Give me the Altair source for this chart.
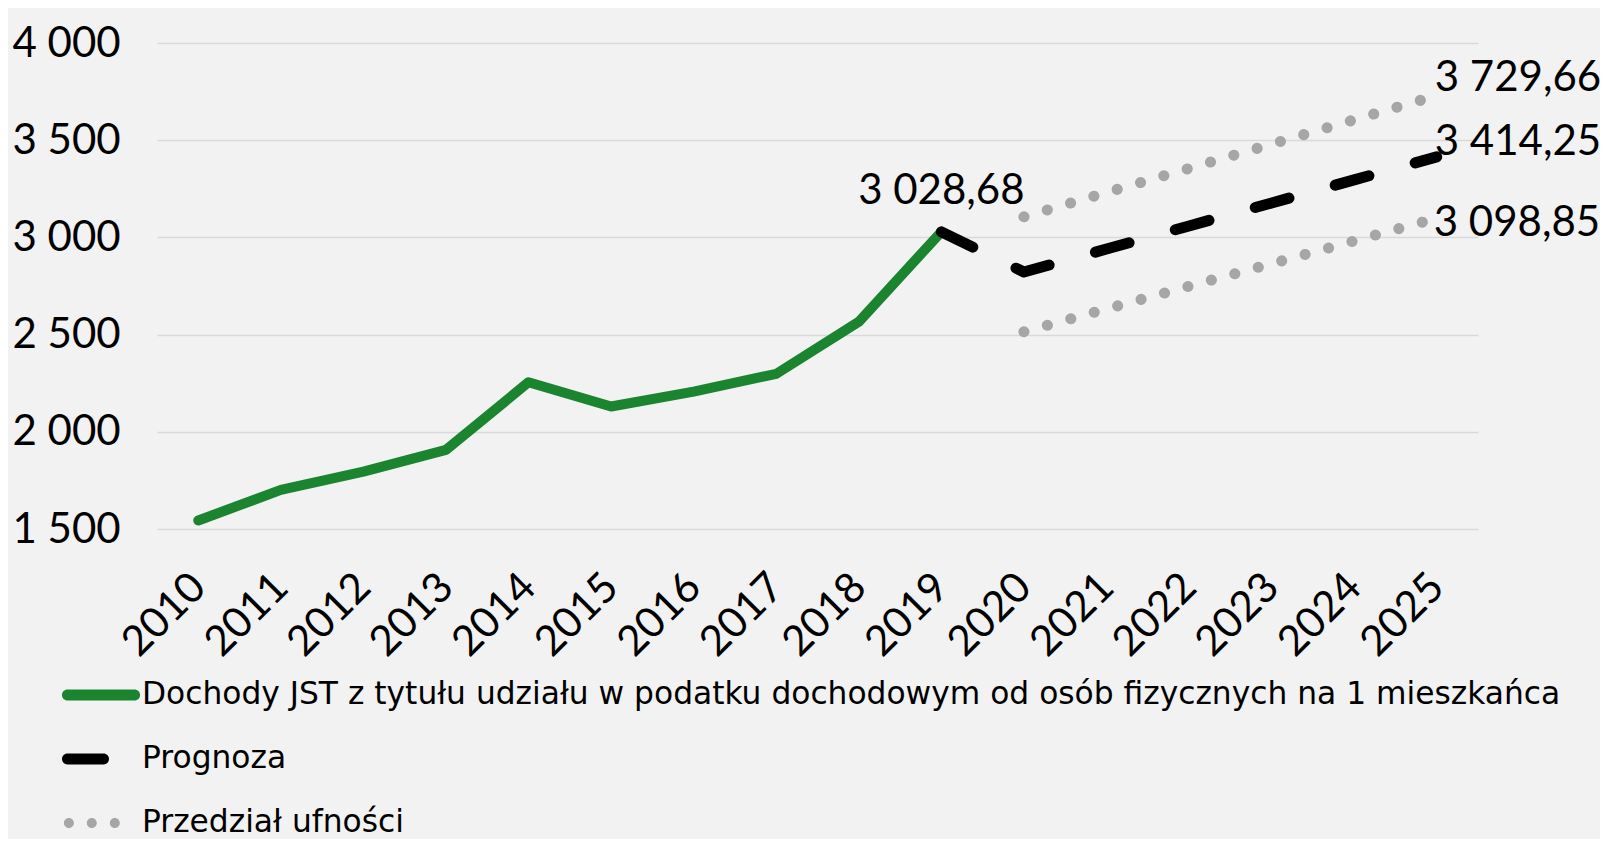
import altair as alt
import pandas as pd

FONT = "Lato"
LEGEND_FONT = "DejaVu Sans"

years = [str(y) for y in range(2010, 2026)]

hist_years = [2010, 2011, 2012, 2013, 2014, 2015, 2016, 2017, 2018, 2019]
hist_values = [1544, 1701, 1795, 1907, 2255, 2130, 2207, 2298, 2566, 3028.68]

fc_years = [2019, 2020, 2021, 2022, 2023, 2024, 2025]
fc_values = [3028.68, 2822, 2940, 3059, 3177, 3296, 3414.25]

ci_years = [2020, 2021, 2022, 2023, 2024, 2025]
ci_upper = [3106, 3231, 3355, 3480, 3605, 3729.66]
ci_lower = [2515, 2632, 2749, 2865, 2982, 3098.85]

series_names = [
    "Dochody JST z tytułu udziału w podatku dochodowym od osób fizycznych na 1 mieszkańca",
    "Prognoza",
    "Przedział ufności",
]
series_colors = ["#1B842F", "#000000", "#A6A6A6"]

# legend symbols (unit square -1..1)
legend_shapes = [
    "M-0.86,-0.141L0.86,-0.141A0.141,0.141 0 0 1 0.86,0.141L-0.86,0.141A0.141,0.141 0 0 1 -0.86,-0.141Z",
    "M-0.86,-0.141L0.064,-0.141A0.141,0.141 0 0 1 0.064,0.141L-0.86,0.141A0.141,0.141 0 0 1 -0.86,-0.141Z",
    "M-0.951,0A0.128,0.128 0 1 0 -0.695,0A0.128,0.128 0 1 0 -0.951,0Z"
    "M-0.364,0A0.128,0.128 0 1 0 -0.108,0A0.128,0.128 0 1 0 -0.364,0Z"
    "M0.226,0A0.128,0.128 0 1 0 0.482,0A0.128,0.128 0 1 0 0.226,0Z",
]

y_ticks = [1500, 2000, 2500, 3000, 3500, 4000]


def pl(v):
    return f"{v:,.2f}".replace(",", " ").replace(".", ",")


hist_df = pd.DataFrame({"year": [str(y) for y in hist_years], "value": hist_values})
fc_df = pd.DataFrame({"year": [str(y) for y in fc_years], "value": fc_values})
ci_df = pd.concat([
    pd.DataFrame({"year": [str(y) for y in ci_years], "value": ci_upper, "line": "up"}),
    pd.DataFrame({"year": [str(y) for y in ci_years], "value": ci_lower, "line": "low"}),
])
legend_df = pd.DataFrame({"series": series_names})

labels = pd.DataFrame([
    {"year": "2019", "value": hist_values[-1], "text": pl(hist_values[-1]), "key": "peak"},
    {"year": "2025", "value": ci_upper[-1], "text": pl(ci_upper[-1]), "key": "up"},
    {"year": "2025", "value": fc_values[-1], "text": pl(fc_values[-1]), "key": "fc"},
    {"year": "2025", "value": ci_lower[-1], "text": pl(ci_lower[-1]), "key": "low"},
])

x_enc = alt.X(
    "year:O",
    sort=years,
    scale=alt.Scale(type="point", padding=0.5, domain=years),
    axis=alt.Axis(
        title=None, grid=False, ticks=False, domain=False,
        labelAngle=-45, labelAlign="right", labelBaseline="middle",
        labelPadding=51, labelFontSize=42, labelFont=FONT, labelColor="#000000",
        labelOverlap=False,
    ),
)
y_enc = alt.Y(
    "value:Q",
    scale=alt.Scale(domain=[1500, 4000], nice=False, zero=False),
    axis=alt.Axis(
        title=None, values=y_ticks, ticks=False, domain=False,
        grid=True, gridColor="#D9D9D9", gridWidth=1.5,
        labelAlign="left", labelBaseline="middle", labelPadding=145,
        labelFontSize=42, labelFont=FONT, labelColor="#000000",
        labelExpr="replace(format(datum.value, ','), ',', ' ')",
    ),
)

hist_line = alt.Chart(hist_df).mark_line(
    color=series_colors[0], strokeWidth=10, strokeCap="round", strokeJoin="round"
).encode(x=x_enc, y=y_enc)

fc_line = alt.Chart(fc_df).mark_line(
    color=series_colors[1], strokeWidth=11, strokeCap="round", strokeJoin="round",
    strokeDash=[35, 48],
).encode(x=alt.X("year:O", sort=years), y="value:Q")

ci_lines = alt.Chart(ci_df).mark_line(
    color=series_colors[2], strokeWidth=11, strokeCap="round", strokeJoin="round",
    strokeDash=[0.1, 24.2],
).encode(x=alt.X("year:O", sort=years), y="value:Q", detail="line:N")

legend_layer = alt.Chart(legend_df).transform_filter("false").mark_point(
    filled=True, opacity=1, strokeWidth=0, size=6084,
).encode(
    color=alt.Color(
        "series:N",
        scale=alt.Scale(domain=series_names, range=series_colors),
        legend=alt.Legend(title=None),
    ),
    shape=alt.Shape(
        "series:N",
        scale=alt.Scale(domain=series_names, range=legend_shapes),
        legend=alt.Legend(title=None),
    ),
)


def label_layer(key, align, dx, dy):
    return alt.Chart(labels).transform_filter(alt.datum.key == key).mark_text(
        align=align, baseline="middle", dx=dx, dy=dy,
        fontSize=42, font=FONT, color="#000000",
    ).encode(x=alt.X("year:O", sort=years), y="value:Q", text="text:N")


chart = alt.layer(
    hist_line,
    fc_line,
    ci_lines,
    legend_layer,
    label_layer("peak", "center", 0, -41),
    label_layer("up", "left", -2, -18),
    label_layer("fc", "left", -2, -15),
    label_layer("low", "left", -3, 5),
).properties(
    width=1321,
    height=486,
    autosize=alt.AutoSizeParams(type="none"),
    padding={"left": 149, "top": 35, "right": 122, "bottom": 310},
    background="#F2F2F2",
).configure_view(
    stroke=None,
).configure_legend(
    orient="none",
    legendX=-95,
    legendY=613,
    direction="vertical",
    symbolSize=6084,
    symbolStrokeWidth=0,
    symbolOpacity=1,
    labelFontSize=31.3,
    labelFont=LEGEND_FONT,
    labelColor="#000000",
    labelLimit=0,
    labelOffset=2,
    rowPadding=9,
    padding=0,
)

chart.save("out.html", embed_options={"renderer": "svg", "actions": False})
